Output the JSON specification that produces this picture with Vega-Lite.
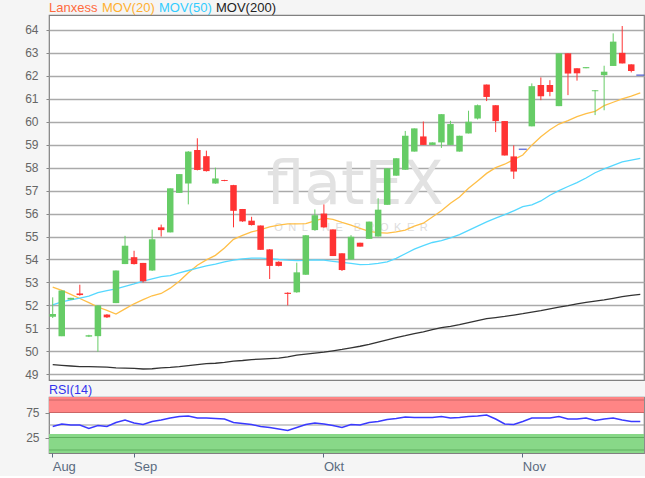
{
  "$schema": "https://vega.github.io/schema/vega-lite/v6.json",
  "background": "#f5f5f5",
  "padding": {"left": 24, "top": 0, "right": 1, "bottom": 2},
  "config": {
    "font": "Liberation Sans",
    "view": {"stroke": "#808080", "strokeWidth": 1.2, "fill": "white"},
    "axis": {"labelFont": "Liberation Sans", "labelFontSize": 12, "labelColor": "#666666", "tickColor": "#888888", "labelOverlap": false}
  },
  "datasets": {
    "p": [
      {"d": "2019-08-20", "o": 51.50, "h": 52.35, "l": 51.45, "c": 51.62, "m20": 52.80, "m50": 52.02, "m200": 49.42, "rsi": 47},
      {"d": "2019-08-21", "o": 50.66, "h": 52.65, "l": 50.66, "c": 52.65, "m20": 52.65, "m50": 52.15, "m200": 49.39, "rsi": 52},
      {"d": "2019-08-22", "o": 52.25, "h": 52.33, "l": 52.25, "c": 52.33, "m20": 52.48, "m50": 52.24, "m200": 49.36, "rsi": 50},
      {"d": "2019-08-23", "o": 52.52, "h": 52.90, "l": 52.42, "c": 52.45, "m20": 52.30, "m50": 52.32, "m200": 49.33, "rsi": 50},
      {"d": "2019-08-26", "o": 50.64, "h": 50.72, "l": 50.62, "c": 50.70, "m20": 52.12, "m50": 52.40, "m200": 49.33, "rsi": 43},
      {"d": "2019-08-27", "o": 50.66, "h": 52.00, "l": 49.98, "c": 52.00, "m20": 51.93, "m50": 52.56, "m200": 49.32, "rsi": 49},
      {"d": "2019-08-28", "o": 51.60, "h": 51.62, "l": 51.45, "c": 51.48, "m20": 51.78, "m50": 52.64, "m200": 49.31, "rsi": 47},
      {"d": "2019-08-29", "o": 52.10, "h": 53.52, "l": 52.10, "c": 53.52, "m20": 51.62, "m50": 52.72, "m200": 49.28, "rsi": 55},
      {"d": "2019-08-30", "o": 53.80, "h": 55.03, "l": 53.80, "c": 54.60, "m20": 51.85, "m50": 52.83, "m200": 49.27, "rsi": 60},
      {"d": "2019-09-02", "o": 54.10, "h": 54.38, "l": 53.78, "c": 53.80, "m20": 52.07, "m50": 52.94, "m200": 49.26, "rsi": 54},
      {"d": "2019-09-03", "o": 53.85, "h": 53.85, "l": 53.00, "c": 53.05, "m20": 52.25, "m50": 53.06, "m200": 49.23, "rsi": 51},
      {"d": "2019-09-04", "o": 53.52, "h": 55.30, "l": 53.50, "c": 54.88, "m20": 52.42, "m50": 53.16, "m200": 49.24, "rsi": 57},
      {"d": "2019-09-05", "o": 55.40, "h": 55.52, "l": 55.00, "c": 55.28, "m20": 52.52, "m50": 53.25, "m200": 49.28, "rsi": 60},
      {"d": "2019-09-06", "o": 55.18, "h": 57.10, "l": 55.18, "c": 57.10, "m20": 52.75, "m50": 53.30, "m200": 49.30, "rsi": 64},
      {"d": "2019-09-09", "o": 56.90, "h": 57.72, "l": 56.90, "c": 57.72, "m20": 53.05, "m50": 53.42, "m200": 49.33, "rsi": 67},
      {"d": "2019-09-10", "o": 57.31, "h": 58.72, "l": 56.40, "c": 58.70, "m20": 53.42, "m50": 53.52, "m200": 49.38, "rsi": 68},
      {"d": "2019-09-11", "o": 58.77, "h": 59.28, "l": 57.88, "c": 57.90, "m20": 53.75, "m50": 53.62, "m200": 49.42, "rsi": 64},
      {"d": "2019-09-12", "o": 58.50, "h": 58.74, "l": 57.83, "c": 57.85, "m20": 53.98, "m50": 53.72, "m200": 49.46, "rsi": 64},
      {"d": "2019-09-13", "o": 57.31, "h": 58.00, "l": 57.30, "c": 57.53, "m20": 54.18, "m50": 53.80, "m200": 49.48, "rsi": 63},
      {"d": "2019-09-16", "o": 57.46, "h": 57.47, "l": 57.41, "c": 57.42, "m20": 54.50, "m50": 53.90, "m200": 49.52, "rsi": 62},
      {"d": "2019-09-17", "o": 57.24, "h": 57.25, "l": 55.40, "c": 56.12, "m20": 54.88, "m50": 53.97, "m200": 49.57, "rsi": 55},
      {"d": "2019-09-18", "o": 56.20, "h": 56.20, "l": 55.64, "c": 55.66, "m20": 55.05, "m50": 54.03, "m200": 49.60, "rsi": 53},
      {"d": "2019-09-19", "o": 55.69, "h": 55.86, "l": 55.48, "c": 55.50, "m20": 55.20, "m50": 54.06, "m200": 49.64, "rsi": 51},
      {"d": "2019-09-20", "o": 55.48, "h": 55.48, "l": 54.42, "c": 54.42, "m20": 55.30, "m50": 54.06, "m200": 49.66, "rsi": 47},
      {"d": "2019-09-23", "o": 54.44, "h": 54.45, "l": 53.15, "c": 53.72, "m20": 55.42, "m50": 54.04, "m200": 49.68, "rsi": 45},
      {"d": "2019-09-24", "o": 53.90, "h": 53.92, "l": 53.70, "c": 53.72, "m20": 55.50, "m50": 54.00, "m200": 49.70, "rsi": 42},
      {"d": "2019-09-25", "o": 52.55, "h": 52.57, "l": 52.00, "c": 52.50, "m20": 55.55, "m50": 53.97, "m200": 49.76, "rsi": 39},
      {"d": "2019-09-26", "o": 52.57, "h": 53.86, "l": 52.55, "c": 53.44, "m20": 55.55, "m50": 53.95, "m200": 49.83, "rsi": 45},
      {"d": "2019-09-27", "o": 53.33, "h": 55.06, "l": 53.33, "c": 55.06, "m20": 55.56, "m50": 53.96, "m200": 49.88, "rsi": 51},
      {"d": "2019-09-30", "o": 55.28, "h": 56.18, "l": 55.26, "c": 55.93, "m20": 55.68, "m50": 53.98, "m200": 49.92, "rsi": 54},
      {"d": "2019-10-01", "o": 56.00, "h": 56.40, "l": 55.38, "c": 55.40, "m20": 55.80, "m50": 53.97, "m200": 49.96, "rsi": 52},
      {"d": "2019-10-02", "o": 55.31, "h": 55.31, "l": 54.15, "c": 54.15, "m20": 55.75, "m50": 53.92, "m200": 50.02, "rsi": 49},
      {"d": "2019-10-04", "o": 54.27, "h": 54.27, "l": 53.50, "c": 53.54, "m20": 55.62, "m50": 53.87, "m200": 50.08, "rsi": 45},
      {"d": "2019-10-07", "o": 54.00, "h": 55.06, "l": 54.00, "c": 54.99, "m20": 55.50, "m50": 53.83, "m200": 50.15, "rsi": 51},
      {"d": "2019-10-08", "o": 54.73, "h": 54.73, "l": 54.56, "c": 54.56, "m20": 55.35, "m50": 53.78, "m200": 50.22, "rsi": 50},
      {"d": "2019-10-09", "o": 54.90, "h": 55.65, "l": 54.90, "c": 55.65, "m20": 55.22, "m50": 53.79, "m200": 50.30, "rsi": 55},
      {"d": "2019-10-10", "o": 55.00, "h": 56.67, "l": 55.00, "c": 56.17, "m20": 55.17, "m50": 53.83, "m200": 50.40, "rsi": 57},
      {"d": "2019-10-11", "o": 56.38, "h": 57.97, "l": 56.38, "c": 57.97, "m20": 55.15, "m50": 53.90, "m200": 50.50, "rsi": 61},
      {"d": "2019-10-14", "o": 57.65, "h": 58.41, "l": 57.65, "c": 58.41, "m20": 55.20, "m50": 54.05, "m200": 50.60, "rsi": 63},
      {"d": "2019-10-15", "o": 57.91, "h": 59.60, "l": 57.91, "c": 59.39, "m20": 55.28, "m50": 54.25, "m200": 50.68, "rsi": 66},
      {"d": "2019-10-16", "o": 58.70, "h": 59.71, "l": 58.70, "c": 59.71, "m20": 55.45, "m50": 54.45, "m200": 50.77, "rsi": 65},
      {"d": "2019-10-17", "o": 59.36, "h": 60.01, "l": 58.99, "c": 58.99, "m20": 55.58, "m50": 54.60, "m200": 50.85, "rsi": 65},
      {"d": "2019-10-18", "o": 58.99, "h": 59.10, "l": 58.99, "c": 59.10, "m20": 55.85, "m50": 54.74, "m200": 50.94, "rsi": 65},
      {"d": "2019-10-21", "o": 59.10, "h": 60.33, "l": 58.86, "c": 60.33, "m20": 56.12, "m50": 54.82, "m200": 51.03, "rsi": 67},
      {"d": "2019-10-22", "o": 58.99, "h": 60.04, "l": 58.99, "c": 59.90, "m20": 56.45, "m50": 54.94, "m200": 51.09, "rsi": 64},
      {"d": "2019-10-23", "o": 58.70, "h": 59.39, "l": 58.70, "c": 59.39, "m20": 56.72, "m50": 55.08, "m200": 51.16, "rsi": 65},
      {"d": "2019-10-24", "o": 59.49, "h": 60.48, "l": 59.49, "c": 60.00, "m20": 57.10, "m50": 55.27, "m200": 51.25, "rsi": 67},
      {"d": "2019-10-25", "o": 60.14, "h": 60.75, "l": 60.10, "c": 60.72, "m20": 57.42, "m50": 55.45, "m200": 51.34, "rsi": 68},
      {"d": "2019-10-28", "o": 61.62, "h": 61.62, "l": 60.90, "c": 61.08, "m20": 57.75, "m50": 55.64, "m200": 51.42, "rsi": 70},
      {"d": "2019-10-29", "o": 60.72, "h": 60.72, "l": 59.55, "c": 60.03, "m20": 58.00, "m50": 55.80, "m200": 51.47, "rsi": 62},
      {"d": "2019-10-30", "o": 60.03, "h": 60.03, "l": 58.53, "c": 58.53, "m20": 58.15, "m50": 55.95, "m200": 51.52, "rsi": 52},
      {"d": "2019-10-31", "o": 58.49, "h": 58.97, "l": 57.51, "c": 57.83, "m20": 58.35, "m50": 56.12, "m200": 51.58, "rsi": 51},
      {"d": "2019-11-01", "o": 58.80, "h": 58.80, "l": 58.80, "c": 58.80, "m20": 58.55, "m50": 56.30, "m200": 51.64, "rsi": 57},
      {"d": "2019-11-04", "o": 59.80, "h": 61.67, "l": 59.80, "c": 61.55, "m20": 58.98, "m50": 56.38, "m200": 51.71, "rsi": 64},
      {"d": "2019-11-05", "o": 61.60, "h": 61.93, "l": 60.94, "c": 61.11, "m20": 59.35, "m50": 56.55, "m200": 51.77, "rsi": 64},
      {"d": "2019-11-06", "o": 61.60, "h": 61.81, "l": 61.11, "c": 61.30, "m20": 59.65, "m50": 56.80, "m200": 51.85, "rsi": 64},
      {"d": "2019-11-07", "o": 60.68, "h": 62.98, "l": 60.68, "c": 62.98, "m20": 59.90, "m50": 57.00, "m200": 51.92, "rsi": 67},
      {"d": "2019-11-08", "o": 62.98, "h": 62.98, "l": 61.16, "c": 62.10, "m20": 60.05, "m50": 57.18, "m200": 51.99, "rsi": 62},
      {"d": "2019-11-11", "o": 62.33, "h": 62.33, "l": 61.79, "c": 62.11, "m20": 60.22, "m50": 57.35, "m200": 52.07, "rsi": 62},
      {"d": "2019-11-12", "o": 62.33, "h": 62.38, "l": 62.33, "c": 62.38, "m20": 60.35, "m50": 57.55, "m200": 52.13, "rsi": 64},
      {"d": "2019-11-13", "o": 61.33, "h": 61.38, "l": 60.29, "c": 61.37, "m20": 60.45, "m50": 57.78, "m200": 52.19, "rsi": 59},
      {"d": "2019-11-14", "o": 62.03, "h": 62.44, "l": 60.50, "c": 62.18, "m20": 60.70, "m50": 57.95, "m200": 52.24, "rsi": 62},
      {"d": "2019-11-15", "o": 62.43, "h": 63.85, "l": 62.43, "c": 63.49, "m20": 60.85, "m50": 58.10, "m200": 52.31, "rsi": 64},
      {"d": "2019-11-18", "o": 63.00, "h": 64.17, "l": 62.54, "c": 62.54, "m20": 61.00, "m50": 58.25, "m200": 52.38, "rsi": 60},
      {"d": "2019-11-19", "o": 62.50, "h": 62.50, "l": 62.15, "c": 62.21, "m20": 61.12, "m50": 58.33, "m200": 52.44, "rsi": 57},
      {"d": "2019-11-20", "o": 62.03, "h": 62.03, "l": 62.03, "c": 62.03, "m20": 61.26, "m50": 58.40, "m200": 52.48, "rsi": 57}
    ]
  },
  "spacing": 1,
  "resolve": {"scale": {"color": "independent", "x": "independent", "y": "independent"}, "legend": {"color": "independent"}},
  "vconcat": [
    {
      "width": 595,
      "height": 365,
      "data": {"name": "p"},
      "encoding": {
        "x": {"field": "d", "type": "ordinal", "scale": {"type": "band", "paddingInner": 0.28, "paddingOuter": 0.05}, "axis": null}
      },
      "layer": [
        {
          "data": {"values": [{}]},
          "mark": {"type": "text", "text": "flatEX", "font": "DejaVu Sans", "fontSize": 60, "color": "#e2e2e2", "align": "center", "baseline": "alphabetic", "dx": 4},
          "encoding": {
            "x": {"datum": "2019-10-07", "type": "ordinal"},
            "y": {"datum": 56.4, "type": "quantitative", "title": null,
              "scale": {"domain": [48.75, 64.65], "nice": false, "zero": false},
              "axis": {"values": [49, 50, 51, 52, 53, 54, 55, 56, 57, 58, 59, 60, 61, 62, 63, 64], "tickCount": 16, "grid": true, "gridColor": "#aaaaaa", "gridWidth": 1.5, "tickSize": 3, "labelPadding": 8, "domain": false, "title": null, "labelOverlap": false}}
          }
        },
        {
          "data": {"values": [{}]},
          "mark": {"type": "text", "text": "O\u2002N\u2002L\u2002I\u2002N\u2002E\u2002\u2002B\u2002R\u2002O\u2002K\u2002E\u2002R", "font": "Liberation Sans", "fontSize": 11, "color": "#dddddd", "align": "center", "baseline": "alphabetic", "dx": 0},
          "encoding": {"x": {"datum": "2019-10-07", "type": "ordinal"}, "y": {"datum": 55.25, "type": "quantitative", "title": null,
              "axis": {"values": [49, 50, 51, 52, 53, 54, 55, 56, 57, 58, 59, 60, 61, 62, 63, 64], "tickCount": 16, "grid": true, "gridColor": "#aaaaaa", "gridWidth": 1.5, "tickSize": 3, "labelPadding": 8, "domain": false, "title": null, "labelOverlap": false}}}
        },
        {
          "transform": [{"fold": ["m20", "m50", "m200"], "as": ["s", "v"]}],
          "mark": {"type": "line", "strokeWidth": 1.3},
          "encoding": {
            "y": {"field": "v", "type": "quantitative", "title": null,
              "axis": {"values": [49, 50, 51, 52, 53, 54, 55, 56, 57, 58, 59, 60, 61, 62, 63, 64], "tickCount": 16, "grid": true, "gridColor": "#aaaaaa", "gridWidth": 1.5, "tickSize": 3, "labelPadding": 8, "domain": false, "title": null, "labelOverlap": false}},
            "color": {"field": "s", "type": "nominal",
              "scale": {"domain": ["Lanxess", "m20", "m50", "m200"], "range": ["#ff6a3d", "#ffbf47", "#55d8ff", "#333333"]},
              "legend": {
                "orient": "none", "legendX": 1, "legendY": -14, "direction": "horizontal", "title": null,
                "symbolSize": 0, "symbolStrokeWidth": 0, "symbolOpacity": 0, "labelOffset": -14, "columnPadding": 4,
                "labelFont": "Liberation Sans", "labelFontSize": 13,
                "labelExpr": "datum.label == 'm20' ? 'MOV(20)' : datum.label == 'm50' ? 'MOV(50)' : datum.label == 'm200' ? 'MOV(200)' : datum.label",
                "encode": {"labels": {"update": {"fill": {"signal": "datum.value == 'Lanxess' ? '#ff6a3d' : datum.value == 'm20' ? '#ffb030' : datum.value == 'm50' ? '#33ccff' : '#222222'"}}}}
              }
            }
          }
        },
        {
          "mark": {"type": "rule", "strokeWidth": 1},
          "encoding": {
            "y": {"field": "l", "type": "quantitative", "title": null,
              "axis": {"values": [49, 50, 51, 52, 53, 54, 55, 56, 57, 58, 59, 60, 61, 62, 63, 64], "tickCount": 16, "grid": true, "gridColor": "#aaaaaa", "gridWidth": 1.5, "tickSize": 3, "labelPadding": 8, "domain": false, "title": null, "labelOverlap": false}},
            "y2": {"field": "h"},
            "color": {"condition": [{"test": "datum.c == datum.o", "value": "#3344cc"}, {"test": "datum.c > datum.o", "value": "#66cc66"}], "value": "#ff3333"}
          }
        },
        {
          "mark": {"type": "bar"},
          "encoding": {
            "y": {"field": "o", "type": "quantitative", "title": null,
              "axis": {"values": [49, 50, 51, 52, 53, 54, 55, 56, 57, 58, 59, 60, 61, 62, 63, 64], "tickCount": 16, "grid": true, "gridColor": "#aaaaaa", "gridWidth": 1.5, "tickSize": 3, "labelPadding": 8, "domain": false, "title": null, "labelOverlap": false}},
            "y2": {"field": "c"},
            "color": {"condition": [{"test": "datum.c == datum.o", "value": "#3344cc"}, {"test": "datum.c > datum.o", "value": "#66cc66"}], "value": "#ff3333"}
          }
        },
        {
          "transform": [{"filter": "datum.o == datum.c"}],
          "mark": {"type": "tick", "thickness": 1.5, "size": 8, "color": "#3344cc"},
          "encoding": {"y": {"field": "c", "type": "quantitative", "title": null,
              "axis": {"values": [49, 50, 51, 52, 53, 54, 55, 56, 57, 58, 59, 60, 61, 62, 63, 64], "tickCount": 16, "grid": true, "gridColor": "#aaaaaa", "gridWidth": 1.5, "tickSize": 3, "labelPadding": 8, "domain": false, "title": null, "labelOverlap": false}}}
        }
      ]
    },
    {
      "width": 595,
      "height": 56,
      "title": {"text": "RSI(14)", "color": "#3333ee", "fontSize": 12.5, "font": "Liberation Sans", "fontWeight": "normal", "anchor": "start", "frame": "group", "offset": 1},
      "data": {"name": "p"},
      "layer": [
        {
          "data": {"values": [{}]},
          "mark": {"type": "rect", "color": "#ff8585"},
          "encoding": {"y": {"datum": 75, "type": "quantitative", "scale": {"domain": [-6, 106], "nice": false, "zero": false}, "axis": {"values": [25, 75], "grid": false, "tickSize": 4, "labelPadding": 6, "domain": false, "title": null}}, "y2": {"datum": 106}}
        },
        {
          "data": {"values": [{}]},
          "mark": {"type": "rect", "color": "#88d888"},
          "encoding": {"y": {"datum": -6, "type": "quantitative"}, "y2": {"datum": 32}}
        },
        {
          "data": {"values": [{}]},
          "mark": {"type": "rule", "color": "#cc6666", "strokeWidth": 1},
          "encoding": {"y": {"datum": 75, "type": "quantitative"}}
        },
        {
          "data": {"values": [{}]},
          "mark": {"type": "rule", "color": "#cc6666", "strokeWidth": 1},
          "encoding": {"y": {"datum": 100, "type": "quantitative"}}
        },
        {
          "data": {"values": [{}]},
          "mark": {"type": "rule", "color": "#5faf5f", "strokeWidth": 1},
          "encoding": {"y": {"datum": 25, "type": "quantitative"}}
        },
        {
          "data": {"values": [{}]},
          "mark": {"type": "rule", "color": "#5faf5f", "strokeWidth": 1},
          "encoding": {"y": {"datum": 0, "type": "quantitative"}}
        },
        {
          "data": {"values": [{}]},
          "mark": {"type": "rule", "color": "#999999", "strokeWidth": 1},
          "encoding": {"y": {"datum": 50, "type": "quantitative"}}
        },
        {
          "mark": {"type": "line", "color": "#3a3aff", "strokeWidth": 1.5},
          "encoding": {
            "x": {"field": "d", "type": "ordinal", "scale": {"type": "band", "paddingInner": 0.28, "paddingOuter": 0.05},
              "axis": {"values": ["2019-08-20", "2019-09-02", "2019-10-01", "2019-11-01"],
                "labelExpr": "datum.value == '2019-08-20' ? 'Aug' : datum.value == '2019-09-02' ? 'Sep' : datum.value == '2019-10-01' ? 'Okt' : 'Nov'",
                "labelAlign": "left", "labelAngle": 0, "labelFontSize": 13, "labelColor": "#5a6b80", "tickColor": "#5a6b80", "tickSize": 4, "labelPadding": 3, "domain": false, "title": null, "grid": false}},
            "y": {"field": "rsi", "type": "quantitative", "title": null}
          }
        }
      ]
    }
  ]
}
